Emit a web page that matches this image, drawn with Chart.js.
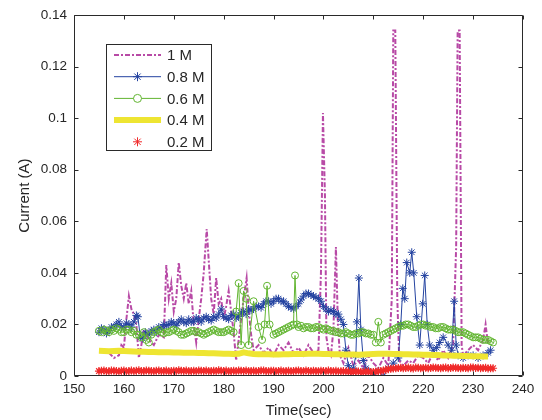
<!DOCTYPE html>
<html><head><meta charset="utf-8">
<script src="https://cdn.jsdelivr.net/npm/chart.js@4/dist/chart.umd.min.js"></script>
<style>html,body{margin:0;padding:0;background:#fff}#wrap{width:542px;height:420px}</style>
</head><body><div id="wrap"><canvas id="c" width="542" height="420"></canvas></div>
<script>
const seriesLabels = ['1 M', '0.8 M', '0.6 M', '0.4 M', '0.2 M'];
const xTicks = [150, 160, 170, 180, 190, 200, 210, 220, 230, 240];
const yTicks = [0, 0.02, 0.04, 0.06, 0.08, 0.1, 0.12, 0.14];
const xTitle = 'Time(sec)';
const yTitle = 'Current (A)';

// regular sampling times (s)
const secs = [155,156,157,158,159,160,161,162,163,164,165,166,167,168,169,170,171,172,173,174,
  175,176,177,178,179,180,181,182,183,184,185,186,187,188,189,190,191,192,193,194,
  195,196,197,198,199,200,201,202,203,204,205,206,207,208,209,210,211,212,213,214,
  215,216,217,218,219,220,221,222,223,224,225,226,227,228,229,230,231,232,233,234];
const halfSecs = [155.5,156.5,157.5,158.5,159.5,160.5,161.5,162.5,163.5,164.5,165.5,166.5,167.5,168.5,169.5,170.5,171.5,172.5,173.5,174.5,
  175.5,176.5,177.5,178.5,179.5,180.5,181.5,182.5,183.5,184.5,185.5,186.5,187.5,188.5,189.5,190.5,191.5,192.5,193.5,194.5,
  195.5,196.5,197.5,198.5,199.5,200.5,201.5,202.5,203.5,204.5,205.5,206.5,207.5,208.5,209.5,210.5,211.5,212.5,213.5,214.5,
  215.5,216.5,217.5,218.5,219.5,220.5,221.5,222.5,223.5,224.5,225.5,226.5,227.5,228.5,229.5,230.5,231.5,232.5,233.5];

// 1 M : [time, current]
const m1 = [[157,0.009],[158,0.007],[159,0.008],[159.5,0.012],[160,0.011],[160.5,0.022],[161,0.031],[161.5,0.026],
  [162,0.024],[162.5,0.02],[163,0.007],[163.5,0.012],[164,0.018],[165,0.014],[166,0.012],[167,0.016],[168,0.015],
  [168.5,0.043],[169,0.03],[169.5,0.036],[170,0.025],[170.5,0.03],[171,0.044],[171.5,0.035],[172,0.03],[172.5,0.036],
  [173,0.028],[173.5,0.033],[174,0.02],[174.5,0.013],[175,0.022],[175.5,0.03],[176,0.04],[176.6,0.057],[177,0.045],
  [177.5,0.03],[178,0.024],[178.5,0.038],[179,0.028],[179.5,0.03],[180,0.022],[180.5,0.027],[181,0.033],[181.5,0.025],
  [182,0.017],[182.5,0.006],[183,0.014],[183.5,0.022],[184,0.03],[184.6,0.038],[185,0.026],[185.5,0.016],[186,0.01],
  [187,0.012],[188,0.009],[189,0.011],[190,0.008],[191,0.012],[192,0.01],[193,0.013],[194,0.009],[195,0.011],
  [196,0.008],[197,0.012],[198,0.009],[199,0.01],[199.5,0.04],[199.9,0.102],[200.3,0.07],[200.6,0.015],[201,0.01],
  [201.5,0.008],[202,0.018],[202.5,0.05],[202.9,0.02],[203.3,0.008],[204,0.005],[205,0.011],[206,0.004],[207,0.006],
  [208,0.003],[209,0.008],[210,0.005],[211,0.003],[212,0.007],[213,0.004],[213.7,0.03],[214,0.134],[214.4,0.134],
  [214.8,0.03],[215.2,0.006],[216,0.004],[217,0.006],[218,0.005],[219,0.008],[220,0.007],[221,0.005],[222,0.009],
  [223,0.006],[224,0.01],[225,0.007],[226,0.012],[226.6,0.05],[226.9,0.134],[227.3,0.134],[227.7,0.012],[228,0.008],
  [229,0.01],[230,0.012],[231,0.01],[232,0.014],[232.5,0.02],[233,0.012]];

// 0.8 M : [time, current]
const m08 = [[155,0.017],[155.5,0.0185],[156,0.018],[156.5,0.0165],[157,0.0175],[157.5,0.019],[158,0.019],[158.5,0.02],
  [159,0.021],[159.5,0.019],[160,0.019],[160.5,0.0205],[161,0.02],[161.5,0.019],[162,0.021],[162.5,0.0235],[162.8,0.023],
  [163.3,0.015],[163.8,0.0145],[164.3,0.017],[165,0.016],[165.5,0.0175],[166,0.018],[166.5,0.017],[167,0.019],
  [167.5,0.0185],[168,0.02],[168.5,0.0195],[169,0.02],[169.5,0.021],[170,0.0205],[170.5,0.0195],[171,0.021],[171.5,0.022],
  [172,0.021],[172.5,0.0205],[173,0.022],[173.5,0.021],[174,0.021],[174.5,0.0225],[175,0.022],[175.5,0.021],[176,0.0225],
  [176.5,0.023],[177,0.022],[177.5,0.0215],[178,0.023],[178.5,0.0225],[179,0.024],[179.5,0.026],[180,0.023],[180.5,0.0225],
  [181,0.022],[181.5,0.0235],[182,0.024],[182.5,0.0225],[183,0.023],[183.5,0.0245],[184,0.025],[184.5,0.024],[185,0.026],
  [185.5,0.0255],[186,0.026],[186.5,0.027],[187,0.027],[187.5,0.0265],[188,0.028],[188.5,0.029],[189,0.029],[189.5,0.028],
  [190,0.029],[190.5,0.03],[191,0.03],[191.5,0.029],[192,0.029],[192.5,0.028],[193,0.027],[193.5,0.0265],[194,0.026],
  [194.5,0.027],[195,0.028],[195.5,0.0295],[196,0.031],[196.5,0.032],[197,0.032],[197.5,0.0315],[198,0.031],[198.5,0.0305],
  [199,0.03],[199.5,0.029],[200,0.027],[200.5,0.026],[201,0.025],[201.5,0.0255],[202,0.025],[202.5,0.024],[203,0.024],
  [203.5,0.022],[204,0.02],[204.5,0.01],
  [205,0.004],[205.5,0.002],[206,0.003],[206.5,0.008],[206.7,0.021],[207.1,0.038],[207.5,0.018],[208,0.006],
  [208.5,0.003],[209,0.002],[210,0.001],[211,0.002],[212,0.0],[213,0.003],[214,0.005],[215,0.007],[215.5,0.02],
  [215.9,0.034],[216.3,0.03],[216.7,0.044],[217.3,0.04],[217.7,0.048],[218.1,0.04],[218.7,0.023],[219.3,0.012],
  [219.9,0.028],[220.3,0.039],[220.8,0.02],[221.3,0.012],[222,0.01],[222.7,0.011],[223.3,0.013],[224,0.015],
  [225,0.012],[225.7,0.01],[226.2,0.029],[226.6,0.012],[227,0.008],[228,0.007],[229,0.008],[230,0.008],[231,0.007],
  [232,0.008],[233,0.009],[233.5,0.01]];

// 0.6 M : [time, current]
const m06 = [[155,0.0175],[155.5,0.017],[156,0.018],[156.5,0.0175],[157,0.017],[157.5,0.018],[158,0.0175],[158.5,0.0185],
  [159,0.018],[159.5,0.017],[160,0.017],[160.5,0.018],[161,0.018],[161.5,0.017],[162,0.0175],[162.5,0.016],[163,0.016],
  [163.5,0.015],[164,0.017],[164.5,0.014],[165,0.013],[165.5,0.016],[166,0.017],[166.5,0.0175],[167,0.018],[167.5,0.017],
  [168,0.0165],[168.5,0.017],[169,0.017],[169.5,0.0175],[170,0.018],[170.5,0.0175],[171,0.017],[171.5,0.016],[172,0.016],
  [172.5,0.0165],[173,0.017],[173.5,0.0175],[174,0.0175],[174.5,0.017],[175,0.017],[175.5,0.0165],[176,0.016],
  [176.5,0.0165],[177,0.017],[177.5,0.0175],[178,0.018],[178.5,0.0175],[179,0.017],[179.5,0.017],[180,0.017],
  [180.5,0.0175],[181,0.018],[181.5,0.0175],[182,0.017],
  [182.5,0.025],[183,0.036],[183.5,0.012],[184,0.033],[184.5,0.03],[185,0.012],[186,0.029],
  [187,0.019],[187.7,0.014],[188.2,0.02],[188.7,0.035],[189.2,0.02],
  [190,0.016],[190.5,0.0165],[191,0.017],[191.5,0.0175],[192,0.018],[192.5,0.0185],[193,0.019],[193.5,0.0195],[194,0.02],
  [194.3,0.039],[194.7,0.02],[195,0.019],[195.5,0.0195],[196,0.0185],[196.5,0.019],[197,0.019],[197.5,0.0185],[198,0.0185],
  [198.5,0.019],[199,0.019],[199.5,0.0185],[200,0.018],[200.5,0.0185],[201,0.018],[201.5,0.0175],[202,0.0175],[202.5,0.017],
  [203,0.017],[203.5,0.0165],[204,0.0165],[204.5,0.017],[205,0.0165],[205.5,0.016],[206,0.016],[206.5,0.0165],[207,0.0165],
  [207.5,0.017],[208,0.017],[208.5,0.0165],[209,0.0165],[209.5,0.016],[210,0.016],[210.5,0.013],[211,0.021],[211.5,0.013],
  [212,0.016],[212.5,0.0165],[213,0.017],[213.5,0.0175],[214,0.018],[214.5,0.0185],[215,0.019],[215.5,0.0195],[216,0.0195],
  [216.5,0.02],[217,0.02],[217.5,0.0195],[218,0.019],[218.5,0.019],[219,0.0195],[219.5,0.02],[220,0.02],[220.5,0.0195],
  [221,0.0195],[221.5,0.019],[222,0.019],[222.5,0.0185],[223,0.0185],[223.5,0.019],[224,0.019],[224.5,0.0185],[225,0.018],
  [225.5,0.018],[226,0.018],[226.5,0.0175],[227,0.017],[227.5,0.017],[228,0.017],[228.5,0.0165],[229,0.016],[229.5,0.0155],
  [230,0.015],[230.5,0.015],[231,0.015],[231.5,0.0145],[232,0.014],[232.5,0.014],[233,0.014],[233.5,0.0135],[234,0.013]];

// 0.4 M : current at secs[0..78]
const m04 = [0.0098,0.0097,0.0096,0.0097,0.0098,0.0097,0.0096,0.0095,0.0094,0.0094,
  0.0093,0.0093,0.0092,0.0092,0.0092,0.0091,0.0091,0.0090,0.0090,0.0090,
  0.0089,0.0089,0.0088,0.0088,0.0087,0.0086,0.0086,0.0085,0.0086,0.0092,
  0.0088,0.0085,0.0084,0.0084,0.0084,0.0083,0.0083,0.0084,0.0084,0.0085,
  0.0085,0.0085,0.0086,0.0086,0.0086,0.0085,0.0085,0.0084,0.0084,0.0083,
  0.0083,0.0083,0.0082,0.0083,0.0084,0.0085,0.0086,0.0086,0.0086,0.0085,
  0.0085,0.0084,0.0084,0.0083,0.0083,0.0082,0.0082,0.0081,0.0081,0.0080,
  0.0080,0.0079,0.0079,0.0078,0.0078,0.0077,0.0077,0.0076,0.0076];

// 0.2 M : current at secs, and at halfSecs
const m02 = [0.0019,0.0021,0.0018,0.0020,0.0017,0.0021,0.0019,0.0018,0.0022,0.0019,
  0.0020,0.0018,0.0021,0.0019,0.0017,0.0020,0.0022,0.0019,0.0018,0.0020,
  0.0021,0.0019,0.0018,0.0020,0.0022,0.0019,0.0017,0.0020,0.0021,0.0019,
  0.0018,0.0020,0.0019,0.0021,0.0018,0.0020,0.0019,0.0017,0.0020,0.0019,
  0.0021,0.0018,0.0019,0.0020,0.0018,0.0019,0.0021,0.0018,0.0017,0.0019,
  0.0018,0.0016,0.0017,0.0015,0.0017,0.0016,0.0018,0.0021,0.0026,0.0029,
  0.0031,0.0030,0.0033,0.0029,0.0032,0.0031,0.0030,0.0033,0.0031,0.0032,
  0.0030,0.0033,0.0031,0.0032,0.0030,0.0033,0.0032,0.0031,0.0029,0.0030];
const m02h = [0.0020,0.0018,0.0021,0.0019,0.0020,0.0017,0.0021,0.0020,0.0018,0.0021,
  0.0019,0.0020,0.0018,0.0021,0.0019,0.0018,0.0020,0.0021,0.0019,0.0018,
  0.0020,0.0021,0.0019,0.0018,0.0020,0.0021,0.0019,0.0018,0.0020,0.0021,
  0.0019,0.0018,0.0021,0.0019,0.0020,0.0018,0.0021,0.0019,0.0018,0.0020,
  0.0019,0.0021,0.0018,0.0019,0.0020,0.0018,0.0019,0.0020,0.0018,0.0017,
  0.0016,0.0018,0.0016,0.0017,0.0015,0.0017,0.0019,0.0024,0.0028,0.0030,
  0.0032,0.0031,0.0030,0.0033,0.0030,0.0032,0.0031,0.0032,0.0030,0.0033,
  0.0031,0.0032,0.0030,0.0031,0.0033,0.0031,0.0030,0.0032,0.0030];

const C_M1 = '#b84aa6', C_M08 = '#2443a0', C_M06 = '#62b531', C_M04 = '#eee532', C_M02 = '#f02a2a';
const pairs = a => a.map(p => ({x: p[0], y: p[1]}));
const onTimes = (times, a) => a.map((v, i) => ({x: times[i], y: v}));

const datasets = [
  {label: seriesLabels[0], data: pairs(m1), borderColor: C_M1, borderWidth: 2, borderDash: [5, 2, 2, 2],
   pointRadius: 0, order: 5, _kind: 'dash'},
  {label: seriesLabels[1], data: pairs(m08), borderColor: C_M08, borderWidth: 1, pointStyle: 'star', pointRadius: 4,
   pointBorderColor: C_M08, pointBorderWidth: 1, order: 4, _kind: 'linemark'},
  {label: seriesLabels[2], data: pairs(m06), borderColor: C_M06, borderWidth: 1, pointStyle: 'circle', pointRadius: 3.5,
   pointBorderColor: C_M06, pointBackgroundColor: 'rgba(0,0,0,0)', pointBorderWidth: 1, order: 3, _kind: 'linemark'},
  {label: seriesLabels[3], data: onTimes(secs, m04), borderColor: C_M04, borderWidth: 6, pointRadius: 0, order: 2, _kind: 'thick'},
  {label: seriesLabels[4], data: onTimes(secs, m02).concat(onTimes(halfSecs, m02h)), borderColor: C_M02, showLine: false,
   pointStyle: 'star', pointRadius: 4, pointBorderColor: C_M02, pointBorderWidth: 1.2, order: 1, _kind: 'mark'}
];

const FONT = "'Liberation Sans', Arial, sans-serif";
const TXT = '#262626';

const frame = {
  id: 'frame',
  afterDatasetsDraw(chart) {
    const {ctx, chartArea: a, scales: {x, y}} = chart;
    ctx.save();
    ctx.strokeStyle = '#2a2a2a';
    ctx.lineWidth = 1;
    const L = Math.round(a.left) + 0.5, R = Math.round(a.right) - 0.5, T = Math.round(a.top) + 0.5, B = Math.round(a.bottom) - 0.5;
    ctx.beginPath();
    ctx.rect(L, T, R - L, B - T);
    const tl = 4;
    xTicks.forEach(v => {
      const px = Math.round(x.getPixelForValue(v)) + 0.5;
      ctx.moveTo(px, B); ctx.lineTo(px, B - tl);
      ctx.moveTo(px, T); ctx.lineTo(px, T + tl);
    });
    yTicks.forEach(v => {
      const py = Math.round(y.getPixelForValue(v)) + 0.5;
      ctx.moveTo(L, py); ctx.lineTo(L + tl, py);
      ctx.moveTo(R, py); ctx.lineTo(R - tl, py);
    });
    ctx.stroke();
    ctx.restore();
  }
};

const legendBox = {
  id: 'legendBox',
  afterDraw(chart) {
    const ctx = chart.ctx;
    const bx = 106.5, by = 44.5, bw = 105, bh = 106;
    ctx.save();
    ctx.fillStyle = '#fff';
    ctx.fillRect(bx, by, bw, bh);
    ctx.strokeStyle = '#2a2a2a';
    ctx.lineWidth = 1;
    ctx.strokeRect(bx, by, bw, bh);
    chart.data.datasets.forEach((ds, i) => {
      const cy = 55 + i * 21.7;
      const x0 = 114, x1 = 161, xm = (x0 + x1) / 2;
      ctx.save();
      if (ds._kind !== 'mark') {
        ctx.strokeStyle = ds.borderColor;
        ctx.lineWidth = ds.borderWidth;
        ctx.setLineDash(ds.borderDash || []);
        ctx.beginPath(); ctx.moveTo(x0, cy); ctx.lineTo(x1, cy); ctx.stroke();
        ctx.setLineDash([]);
      }
      if (ds._kind === 'linemark' || ds._kind === 'mark') {
        ctx.strokeStyle = ds.pointBorderColor;
        ctx.fillStyle = '#fff';
        Chart.helpers.drawPoint(ctx, {pointStyle: ds.pointStyle, radius: ds.pointRadius + 0.5,
          borderWidth: 1, rotation: 0}, xm, cy);
      }
      ctx.restore();
      ctx.fillStyle = TXT;
      ctx.font = '15px ' + FONT;
      ctx.textBaseline = 'middle';
      ctx.textAlign = 'left';
      ctx.fillText(ds.label, 167, cy + 1);
    });
    ctx.restore();
  }
};

new Chart(document.getElementById('c'), {
  type: 'line',
  data: {datasets},
  options: {
    responsive: false,
    animation: false,
    devicePixelRatio: 1,
    layout: {padding: {left: 0, top: 15, right: 19, bottom: 0}},
    plugins: {legend: {display: false}, tooltip: {enabled: false}},
    elements: {line: {tension: 0}},
    scales: {
      x: {
        type: 'linear', min: 150, max: 240,
        grid: {display: false, drawTicks: false},
        border: {display: false},
        afterBuildTicks: s => { s.ticks = xTicks.map(v => ({value: v})); },
        afterFit: s => { s.height = 44; },
        ticks: {autoSkip: false, maxRotation: 0, padding: 5, color: TXT, font: {family: FONT, size: 13.5},
          callback: v => String(v)},
        title: {display: true, text: xTitle, color: TXT, font: {family: FONT, size: 15}, padding: {top: 2, bottom: 0}}
      },
      y: {
        type: 'linear', min: 0, max: 0.14,
        grid: {display: false, drawTicks: false},
        border: {display: false},
        afterBuildTicks: s => { s.ticks = yTicks.map(v => ({value: v})); },
        afterFit: s => { s.width = 74; },
        ticks: {autoSkip: false, padding: 7, color: TXT, font: {family: FONT, size: 13.5},
          callback: v => String(v)},
        title: {display: true, text: yTitle, color: TXT, font: {family: FONT, size: 15}, padding: {top: 16, bottom: 0}}
      }
    }
  },
  plugins: [frame, legendBox]
});
</script>
</body></html>
